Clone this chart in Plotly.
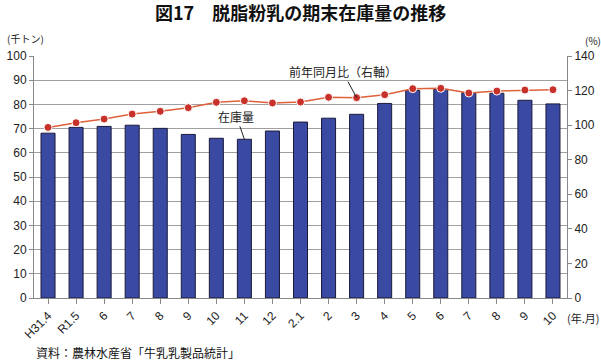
import plotly.graph_objects as go

categories = ["H31.4", "R1.5", "6", "7", "8", "9", "10", "11", "12",
              "2.1", "2", "3", "4", "5", "6", "7", "8", "9", "10"]
stock = [68.1, 70.5, 70.9, 71.4, 70.1, 67.6, 66.0, 65.6, 69.0, 72.7,
         74.3, 75.9, 80.4, 85.8, 86.2, 84.8, 84.6, 81.7, 80.2]
yoy = [98.7, 101.4, 103.5, 106.4, 108.0, 110.1, 113.2, 114.1, 112.8, 113.4,
       116.1, 115.9, 117.6, 121.1, 121.3, 118.6, 119.7, 120.3, 120.5]
left_ticks = list(range(0, 101, 10))
right_ticks = list(range(0, 141, 20))

FONT = "Liberation Sans, Arial, Noto Sans CJK JP, sans-serif"
JFONT = "Noto Sans CJK JP, sans-serif"

xs = list(range(len(categories)))

fig = go.Figure()
fig.add_trace(go.Bar(
    x=xs, y=stock, width=0.5,
    marker=dict(color="#3a4aa2", line=dict(color="#1a1a3a", width=1)),
    yaxis="y", showlegend=False,
))
fig.add_trace(go.Scatter(
    x=xs, y=yoy, mode="lines+markers", yaxis="y2",
    line=dict(color="#e0603a", width=1.5),
    marker=dict(color="#c8302a", size=8, line=dict(color="white", width=1)),
    showlegend=False,
))

fig.update_layout(
    width=601, height=360,
    margin=dict(l=34, r=34, t=56, b=62, autoexpand=False),
    paper_bgcolor="white", plot_bgcolor="white",
    font=dict(family=FONT, size=12, color="#222"),
    xaxis=dict(
        range=[-0.5, len(categories) - 0.5], automargin=False,
        tickvals=xs, ticktext=categories, tickangle=-45,
        showline=True, linecolor="#888", linewidth=1,
        ticks="outside", ticklen=5, tickcolor="#888",
        tickson="boundaries", showgrid=False, zeroline=False,
        tickfont=dict(size=12),
    ),
    yaxis=dict(
        range=[0, 100], tickvals=left_ticks, automargin=False,
        showline=True, linecolor="#888", linewidth=1,
        ticks="outside", ticklen=4, tickcolor="#888",
        showgrid=True, gridcolor="#a0a0a0", gridwidth=1, zeroline=False,
        tickfont=dict(size=12),
    ),
    yaxis2=dict(
        range=[0, 140], tickvals=right_ticks, overlaying="y", side="right",
        automargin=False,
        showline=True, linecolor="#888", linewidth=1,
        ticks="outside", ticklen=4, tickcolor="#888",
        showgrid=False, zeroline=False,
        tickfont=dict(size=12),
    ),
    annotations=[
        dict(text="<b>図17　脱脂粉乳の期末在庫量の推移</b>", xref="paper", yref="paper",
             x=0.5, y=1, yshift=44, xanchor="center", yanchor="middle",
             showarrow=False, font=dict(family=JFONT, size=18, color="#111")),
        dict(text="(千トン)", xref="paper", yref="paper", x=0, y=1, xshift=-29, yshift=18,
             xanchor="left", yanchor="middle", showarrow=False,
             font=dict(family=JFONT, size=10)),
        dict(text="(%)", xref="paper", yref="paper", x=1, y=1, xshift=16, yshift=16,
             xanchor="left", yanchor="middle", showarrow=False,
             font=dict(family=JFONT, size=10)),
        dict(text="(年.月)", xref="paper", yref="paper", x=1, y=0, xshift=-2, yshift=-20,
             xanchor="left", yanchor="middle", showarrow=False,
             font=dict(family=JFONT, size=11)),
        dict(text="資料：農林水産省「牛乳乳製品統計」", xref="paper", yref="paper",
             x=0, y=0, xshift=0, yshift=-54, xanchor="left", yanchor="middle",
             showarrow=False, font=dict(family=JFONT, size=12, color="#111")),
        dict(text="在庫量", x=7, y=stock[7], xref="x", yref="y",
             showarrow=True, arrowhead=0, arrowwidth=1, arrowcolor="#222",
             ax=-8, ay=-23, font=dict(family=JFONT, size=12)),
        dict(text="前年同月比（右軸）", x=11, y=yoy[11], xref="x", yref="y2",
             showarrow=True, arrowhead=0, arrowwidth=1, arrowcolor="#222",
             ax=-14, ay=-26, font=dict(family=JFONT, size=12)),
    ],
)

fig.write_html(
    "out.html",
    config={"displayModeBar": False},
    post_script="document.body.style.margin='0px';document.body.style.padding='0px';",
)
